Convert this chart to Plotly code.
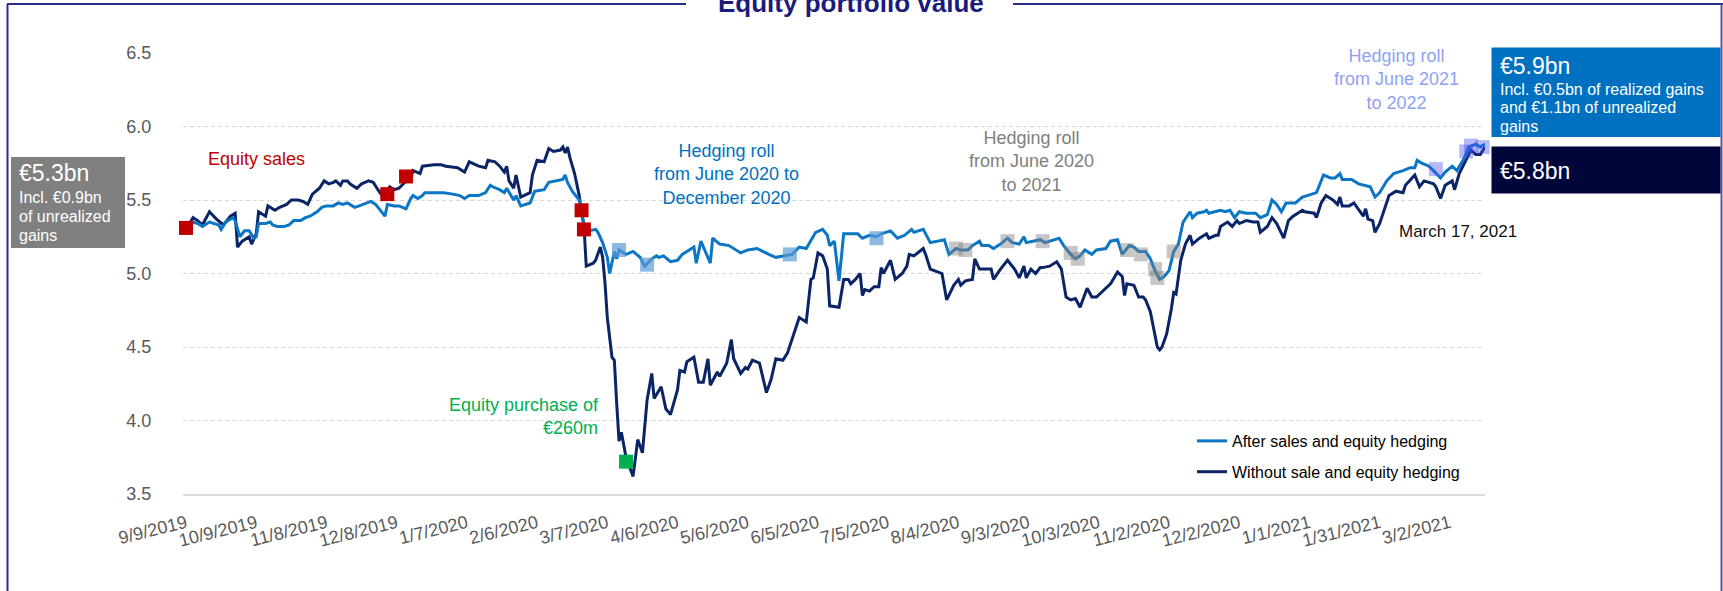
import pandas as pd
import plotly.graph_objects as go

START = pd.Timestamp("2019-09-09")

# ---- series: calendar-day offsets from 9 Sep 2019, values in EUR bn ----
blue_days = [0, 3, 5, 7, 10, 12, 14, 15, 17, 20, 21, 23, 25, 27, 29, 30, 31, 34, 36, 37,
             39, 42, 44, 46, 49, 51, 53, 56, 58, 60, 63, 65, 67, 69, 72, 74, 77, 79, 81, 83,
             85, 86, 89, 91, 94, 96, 97, 99, 101, 102, 106, 110, 114, 117, 119, 121, 123, 125, 128, 130,
             131, 133, 134, 136, 137, 140, 141, 143, 147, 149, 153, 155, 160, 161, 162, 163, 165, 168, 169, 170,
             172, 175, 176, 178, 180, 181, 183, 184, 185, 188, 191, 194, 196, 199, 201, 202, 204, 207, 210, 212,
             217, 218, 220, 221, 224, 225, 228, 232, 237, 240, 244, 249, 252, 259, 262, 265, 267, 269, 272, 274,
             275, 277, 279, 281, 284, 287, 289, 292, 295, 297, 301, 304, 307, 310, 311, 315, 318, 321, 324, 326,
             329, 331, 334, 336, 339, 340, 343, 345, 348, 351, 353, 356, 358, 359, 362, 365, 367, 369, 373, 375,
             378, 380, 382, 384, 387, 389, 393, 395, 398, 400, 403, 405, 407, 410, 412, 414, 416, 418, 420, 422,
             424, 426, 429, 430, 432, 435, 436, 437, 442, 444, 446, 448, 450, 453, 457, 459, 462, 464, 466, 468,
             470, 474, 477, 479, 483, 486, 489, 491, 493, 494, 498, 501, 504, 506, 508, 510, 513, 516, 520, 523,
             525, 526, 528, 531, 533, 536, 538, 541, 543, 546, 548, 551, 553, 555]
blue_vals = [5.30, 5.35, 5.34, 5.32, 5.35, 5.34, 5.33, 5.30, 5.35, 5.38, 5.36, 5.25, 5.29, 5.29, 5.24, 5.25, 5.34, 5.34, 5.35, 5.33,
             5.32, 5.32, 5.33, 5.36, 5.36, 5.38, 5.39, 5.42, 5.45, 5.46, 5.46, 5.48, 5.47, 5.48, 5.45, 5.46, 5.48, 5.49, 5.47, 5.43,
             5.39, 5.47, 5.46, 5.46, 5.44, 5.51, 5.53, 5.51, 5.53, 5.55, 5.55, 5.55, 5.54, 5.53, 5.51, 5.53, 5.53, 5.53, 5.55, 5.60,
             5.59, 5.58, 5.57, 5.55, 5.58, 5.50, 5.53, 5.46, 5.48, 5.56, 5.57, 5.62, 5.64, 5.64, 5.67, 5.62, 5.56, 5.50, 5.42, 5.33,
             5.29, 5.30, 5.28, 5.21, 5.11, 5.00, 5.15, 5.10, 5.16, 5.13, 5.15, 5.11, 5.05, 5.10, 5.12, 5.11, 5.12, 5.08, 5.09, 5.13,
             5.18, 5.07, 5.22, 5.18, 5.07, 5.24, 5.20, 5.19, 5.14, 5.16, 5.17, 5.13, 5.11, 5.13, 5.18, 5.17, 5.23, 5.28, 5.30, 5.26,
             5.19, 5.22, 4.95, 5.27, 5.27, 5.27, 5.24, 5.26, 5.25, 5.27, 5.29, 5.24, 5.26, 5.30, 5.28, 5.30, 5.21, 5.22, 5.23, 5.13,
             5.17, 5.16, 5.16, 5.19, 5.22, 5.19, 5.19, 5.17, 5.20, 5.24, 5.21, 5.20, 5.25, 5.21, 5.22, 5.23, 5.21, 5.22, 5.24, 5.19,
             5.13, 5.10, 5.12, 5.16, 5.13, 5.16, 5.17, 5.22, 5.23, 5.13, 5.19, 5.18, 5.15, 5.15, 5.10, 5.02, 4.96, 4.98, 5.02, 5.15,
             5.20, 5.35, 5.42, 5.38, 5.41, 5.42, 5.43, 5.41, 5.43, 5.42, 5.43, 5.38, 5.42, 5.41, 5.41, 5.38, 5.40, 5.50, 5.47, 5.42,
             5.48, 5.48, 5.52, 5.53, 5.55, 5.67, 5.65, 5.65, 5.68, 5.64, 5.64, 5.61, 5.60, 5.59, 5.52, 5.55, 5.63, 5.68, 5.70, 5.72,
             5.72, 5.77, 5.75, 5.73, 5.70, 5.65, 5.69, 5.73, 5.70, 5.78, 5.86, 5.88, 5.86, 5.88]

navy_days = [0, 3, 5, 7, 10, 13, 16, 19, 21, 22, 24, 27, 28, 30, 31, 34, 35, 38, 40, 43,
             45, 48, 50, 52, 54, 57, 59, 61, 63, 64, 66, 67, 69, 70, 73, 75, 78, 80, 82, 85,
             86, 87, 89, 91, 94, 96, 97, 99, 100, 101, 106, 109, 111, 116, 119, 121, 125, 128, 129, 132,
             134, 136, 137, 138, 140, 141, 143, 147, 148, 150, 153, 155, 157, 160, 161, 162, 163, 164, 166, 168,
             169, 170, 171, 174, 175, 177, 178, 179, 180, 182, 183, 184, 185, 186, 188, 191, 193, 195, 197, 199,
             200, 203, 205, 207, 210, 211, 213, 214, 217, 219, 221, 223, 224, 227, 228, 231, 233, 234, 237, 239,
             240, 242, 245, 248, 250, 252, 255, 257, 259, 262, 265, 267, 268, 270, 272, 274, 275, 279, 281, 283,
             284, 286, 288, 289, 290, 292, 294, 296, 297, 298, 301, 303, 306, 308, 309, 311, 315, 316, 318, 323,
             325, 328, 330, 331, 333, 336, 337, 339, 342, 344, 345, 348, 351, 354, 356, 358, 359, 361, 363, 365,
             366, 369, 372, 374, 376, 378, 380, 382, 385, 387, 389, 393, 395, 398, 400, 401, 402, 405, 407, 409,
             410, 412, 413, 414, 415, 416, 417, 419, 421, 422, 423, 425, 427, 429, 430, 433, 436, 437, 440, 441,
             442, 445, 447, 449, 450, 453, 456, 458, 459, 462, 464, 466, 469, 471, 473, 477, 478, 482, 483, 485,
             487, 490, 492, 493, 494, 497, 499, 503, 504, 505, 507, 508, 510, 512, 514, 517, 520, 521, 525, 527,
             529, 533, 534, 536, 538, 541, 542, 544, 547, 549, 551, 553, 555]
navy_vals = [5.30, 5.38, 5.36, 5.33, 5.42, 5.37, 5.33, 5.39, 5.41, 5.18, 5.22, 5.25, 5.20, 5.27, 5.42, 5.39, 5.46, 5.43, 5.45, 5.47,
             5.50, 5.50, 5.49, 5.47, 5.54, 5.58, 5.63, 5.61, 5.62, 5.63, 5.60, 5.63, 5.63, 5.61, 5.58, 5.61, 5.63, 5.62, 5.57, 5.50,
             5.56, 5.59, 5.57, 5.58, 5.63, 5.65, 5.70, 5.69, 5.68, 5.73, 5.74, 5.74, 5.73, 5.72, 5.69, 5.76, 5.73, 5.72, 5.77, 5.76,
             5.73, 5.69, 5.73, 5.63, 5.58, 5.67, 5.52, 5.55, 5.67, 5.77, 5.76, 5.85, 5.83, 5.84, 5.86, 5.82, 5.86, 5.79, 5.68, 5.53,
             5.41, 5.33, 5.05, 5.07, 5.09, 5.18, 5.11, 4.94, 4.70, 4.43, 4.41, 4.12, 3.86, 3.92, 3.75, 3.62, 3.87, 3.78, 4.14, 4.32,
             4.15, 4.23, 4.08, 4.04, 4.21, 4.34, 4.33, 4.40, 4.43, 4.26, 4.26, 4.42, 4.24, 4.33, 4.30, 4.39, 4.55, 4.42, 4.32, 4.36,
             4.35, 4.41, 4.39, 4.19, 4.28, 4.42, 4.41, 4.46, 4.55, 4.70, 4.67, 4.96, 4.97, 5.14, 5.12, 5.03, 4.78, 4.77, 4.96, 4.96,
             4.93, 4.96, 5.00, 4.85, 4.89, 4.88, 4.91, 4.91, 5.04, 5.00, 5.09, 4.96, 5.00, 5.05, 5.13, 5.12, 5.17, 5.13, 5.03, 5.00,
             4.82, 4.92, 4.96, 4.92, 4.95, 4.96, 5.10, 5.03, 5.03, 5.03, 4.96, 5.03, 5.09, 5.03, 4.97, 5.05, 4.97, 5.03, 5.00, 5.04,
             5.04, 5.05, 5.08, 5.03, 4.84, 4.82, 4.83, 4.77, 4.90, 4.84, 4.84, 4.90, 4.93, 5.01, 4.98, 4.85, 4.93, 4.92, 4.84, 4.84,
             4.82, 4.74, 4.67, 4.58, 4.50, 4.48, 4.50, 4.59, 4.76, 4.87, 4.86, 5.09, 5.20, 5.26, 5.20, 5.24, 5.27, 5.24, 5.26, 5.26,
             5.32, 5.35, 5.32, 5.36, 5.34, 5.36, 5.35, 5.35, 5.28, 5.32, 5.38, 5.34, 5.24, 5.36, 5.39, 5.43, 5.42, 5.41, 5.38, 5.48,
             5.53, 5.50, 5.47, 5.52, 5.46, 5.46, 5.48, 5.39, 5.44, 5.37, 5.36, 5.28, 5.34, 5.43, 5.53, 5.56, 5.55, 5.60, 5.67, 5.59,
             5.63, 5.61, 5.59, 5.51, 5.60, 5.63, 5.57, 5.68, 5.78, 5.84, 5.81, 5.81, 5.86]

# ---- event markers ----
sales_days = [0, 86, 94, 169, 170]
sales_vals = [5.31, 5.54, 5.66, 5.43, 5.30]
purchase_days = [188]
purchase_vals = [3.72]
roll2020_days = [185, 197, 258, 295]
roll2020_vals = [5.16, 5.06, 5.13, 5.24]
rollgrey_days = [329, 333, 351, 366, 378, 381, 402, 408, 414, 415, 422]
rollgrey_vals = [5.17, 5.16, 5.22, 5.22, 5.14, 5.10, 5.16, 5.13, 5.03, 4.97, 5.15]
roll2021_days = [534, 547, 549, 554]
roll2021_vals = [5.71, 5.83, 5.87, 5.86]

x_tick_labels = ["9/9/2019", "10/9/2019", "11/8/2019", "12/8/2019", "1/7/2020", "2/6/2020",
                 "3/7/2020", "4/6/2020", "5/6/2020", "6/5/2020", "7/5/2020", "8/4/2020",
                 "9/3/2020", "10/3/2020", "11/2/2020", "12/2/2020", "1/1/2021", "1/31/2021",
                 "3/2/2021"]
y_tick_values = [3.5, 4.0, 4.5, 5.0, 5.5, 6.0, 6.5]


def to_dates(days):
    return START + pd.to_timedelta(days, unit="D")


FONT = "Liberation Sans, Arial, Helvetica, sans-serif"
W, H = 1723, 591
ML, MR, MT, MB = 183, 238, 53, 97
PW, PH = W - ML - MR, H - MT - MB


def px(x):
    return (x - ML) / PW


def py(y):
    return (H - MB - y) / PH


fig = go.Figure()

fig.add_trace(go.Scatter(x=to_dates(navy_days), y=navy_vals, mode="lines",
                         name="Without sale and equity hedging", legendgroup="b", legendrank=2,
                         line=dict(color="#0B2466", width=3)))
fig.add_trace(go.Scatter(x=to_dates(blue_days), y=blue_vals, mode="lines",
                         name="After sales and equity hedging", legendgroup="a", legendrank=1,
                         line=dict(color="#0B76C4", width=3)))


def markers(days, vals, color, name):
    fig.add_trace(go.Scatter(x=to_dates(days), y=vals, mode="markers", name=name,
                             showlegend=False, cliponaxis=False,
                             marker=dict(symbol="square", size=14, color=color, line=dict(width=0))))


markers(roll2020_days, roll2020_vals, "rgba(91,155,213,0.7)", "Hedging roll 2020")
markers(rollgrey_days, rollgrey_vals, "rgba(128,128,128,0.45)", "Hedging roll 2020-2021")
markers(roll2021_days, roll2021_vals, "rgba(70,80,240,0.4)", "Hedging roll 2021-2022")
markers(sales_days, sales_vals, "#C00000", "Equity sales")
markers(purchase_days, purchase_vals, "#00B050", "Equity purchase")

tick_dates = pd.to_datetime(x_tick_labels, format="%m/%d/%Y")

fig.update_xaxes(type="date",
                 range=[START - pd.Timedelta(hours=31), START + pd.Timedelta(days=555)],
                 tickvals=tick_dates, ticktext=x_tick_labels, tickangle=-14,
                 tickfont=dict(size=18, color="#595959", family=FONT),
                 showgrid=False, zeroline=False, showline=True, linecolor="#D9D9D9", linewidth=2,
                 ticks="outside", ticklen=10, tickcolor="rgba(0,0,0,0)")
fig.update_yaxes(range=[3.5, 6.5], tickvals=y_tick_values, tickformat=".1f",
                 tickfont=dict(size=18, color="#595959", family=FONT),
                 showgrid=True, gridcolor="#D9D9D9", gridwidth=1.2, griddash="4px,3px",
                 zeroline=False, showline=False,
                 ticks="outside", ticklen=27, tickcolor="rgba(0,0,0,0)")

NAVY_FRAME = "#2B2B8C"
shapes = [
    dict(type="line", xref="paper", yref="paper", x0=px(7), x1=px(686), y0=py(4), y1=py(4),
         line=dict(color=NAVY_FRAME, width=2)),
    dict(type="line", xref="paper", yref="paper", x0=px(1013), x1=px(W), y0=py(4), y1=py(4),
         line=dict(color=NAVY_FRAME, width=2)),
    dict(type="line", xref="paper", yref="paper", x0=px(7.5), x1=px(7.5), y0=py(4), y1=py(H),
         line=dict(color=NAVY_FRAME, width=2)),
    dict(type="line", xref="paper", yref="paper", x0=px(1721.5), x1=px(1721.5), y0=py(4), y1=py(H),
         line=dict(color="#5A52A8", width=2)),
    dict(type="rect", xref="paper", yref="paper", x0=px(1491.5), x1=px(1720.5), y0=py(137), y1=py(47.5),
         fillcolor="#0070C0", line=dict(width=0)),
    dict(type="rect", xref="paper", yref="paper", x0=px(1491.5), x1=px(1720.5), y0=py(193.5), y1=py(146.5),
         fillcolor="#00053A", line=dict(width=0)),
    dict(type="rect", xref="paper", yref="paper", x0=px(11), x1=px(125), y0=py(248), y1=py(157),
         fillcolor="#808080", line=dict(width=0)),
]

annotations = []


def ann(text, x, y, color, size, xanchor="center", align="center"):
    annotations.append(dict(text=text, x=px(x), y=py(y), xref="paper", yref="paper",
                            xanchor=xanchor, yanchor="middle", align=align, showarrow=False,
                            font=dict(family=FONT, size=size, color=color)))


ann("<b>Equity portfolio value</b>", 850.5, 3.5, "#1B1B7E", 26)
ann("Equity sales", 256.7, 159, "#C00000", 18)
ann("Hedging roll<br>from June 2020 to<br>December 2020", 726, 174.5, "#0070C0", 18)
ann("Hedging roll<br>from June 2020<br>to 2021", 1031.5, 161, "#808080", 18)
ann("Hedging roll<br>from June 2021<br>to 2022", 1396.6, 79.5, "#8FA2F2", 18)
ann("Equity purchase of<br>€260m", 601, 416, "#00B050", 18, xanchor="right", align="right")
ann("March 17, 2021", 1458, 231, "#111111", 17)
# right boxes
ann("€5.9bn", 1498, 65.5, "#FFFFFF", 23, xanchor="left", align="left")
ann("Incl. €0.5bn of realized gains", 1498, 89, "#FFFFFF", 16, xanchor="left", align="left")
ann("and €1.1bn of unrealized", 1498, 107.5, "#FFFFFF", 16, xanchor="left", align="left")
ann("gains", 1498, 126, "#FFFFFF", 16, xanchor="left", align="left")
ann("€5.8bn", 1498, 171.2, "#FFFFFF", 23, xanchor="left", align="left")
# left box
ann("€5.3bn", 17, 173.3, "#FFFFFF", 23, xanchor="left", align="left")
ann("Incl. €0.9bn", 17, 197, "#FFFFFF", 16, xanchor="left", align="left")
ann("of unrealized", 17, 216, "#FFFFFF", 16, xanchor="left", align="left")
ann("gains", 17, 235, "#FFFFFF", 16, xanchor="left", align="left")

fig.update_layout(
    width=W, height=H, autosize=False,
    margin=dict(l=ML, r=MR, t=MT, b=MB, pad=0),
    paper_bgcolor="white", plot_bgcolor="white",
    font=dict(family=FONT, size=16, color="#000000"),
    shapes=shapes, annotations=annotations,
    showlegend=True,
    legend=dict(x=px(1192), y=py(424), xanchor="left", yanchor="top",
                bgcolor="rgba(0,0,0,0)", borderwidth=0, tracegroupgap=7,
                font=dict(family=FONT, size=16, color="#000000")),
)

fig.write_html("out.html", config={"displayModeBar": False},
               post_script="document.body.style.margin='0';document.body.style.overflow='hidden';")
